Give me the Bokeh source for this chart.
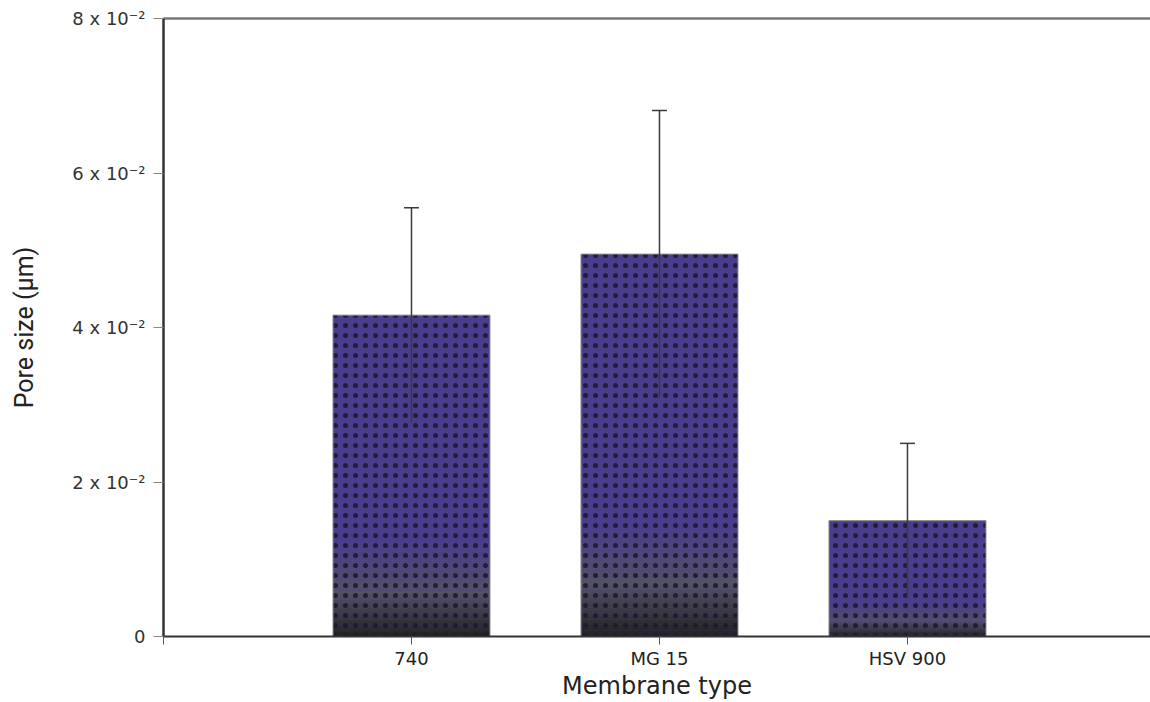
from bokeh.plotting import figure
from bokeh.models import FixedTicker, LinearAxis, Range1d
from bokeh.embed import file_html
from bokeh.resources import INLINE

categories = ["740", "MG 15", "HSV 900"]
means = [0.0416, 0.0495, 0.0150]
sds = [0.0139, 0.0186, 0.0100]
y_ticks = [0, 0.02, 0.04, 0.06, 0.08]
y_tick_labels = ["0", "2 x 10\u207b\u00b2", "4 x 10\u207b\u00b2", "6 x 10\u207b\u00b2", "8 x 10\u207b\u00b2"]

xs = [i + 1 for i in range(len(categories))]
BAR_W = 0.633
PURPLE = "#4a3e8c"

p = figure(width=1150, height=702, output_backend="svg", toolbar_location=None,
           x_range=Range1d(0, 3.98), y_range=Range1d(0, 0.08),
           min_border_left=163, min_border_right=0, min_border_top=18, min_border_bottom=66)
p.xgrid.visible = False
p.ygrid.visible = False
p.outline_line_color = None
p.background_fill_color = "white"

# main bars
p.vbar(x=xs, top=means, width=BAR_W, fill_color=PURPLE, line_color=None)

# gradient at the bottom of each bar (30% of bar height)
def lerp(c1, c2, t):
    a = [int(c1[i:i+2], 16) for i in (1, 3, 5)]
    b = [int(c2[i:i+2], 16) for i in (1, 3, 5)]
    return "#%02x%02x%02x" % tuple(int(round(a[k] + (b[k] - a[k]) * t)) for k in range(3))

n = 40
gl, gr, gb, gt, gc = [], [], [], [], []
for x, m in zip(xs, means):
    h = 0.30 * m
    for k in range(n):
        t = k / (n - 1)
        if t < 0.45:
            c = lerp("#222224", "#535165", t / 0.45)
        else:
            c = lerp("#535165", PURPLE, (t - 0.45) / 0.55)
        gl.append(x - BAR_W / 2)
        gr.append(x + BAR_W / 2)
        gb.append(h * k / n)
        gt.append(h * (k + 1) / n + 1e-5)
        gc.append(c)
p.quad(left=gl, right=gr, bottom=gb, top=gt, fill_color=gc, line_color=None)

# dot texture + outline
p.vbar(x=xs, top=means, width=BAR_W, fill_alpha=0, line_color="#8a8a8a", line_width=1,
       hatch_pattern="dot", hatch_color="#1d1a2e", hatch_scale=10, hatch_weight=5, hatch_alpha=0.9)

# error bars
lows = [m - s for m, s in zip(means, sds)]
highs = [m + s for m, s in zip(means, sds)]
p.segment(x0=xs, x1=xs, y0=lows, y1=highs, line_color="#3a3a3a", line_width=1.5)
p.segment(x0=[x - 0.03 for x in xs], x1=[x + 0.03 for x in xs], y0=highs, y1=highs,
          line_color="#3a3a3a", line_width=1.5)

# axes
p.xaxis.ticker = FixedTicker(ticks=[0] + xs)
p.xaxis.major_label_overrides = {0: "", **{x: c for x, c in zip(xs, categories)}}
p.xaxis.axis_label = "Membrane type"
p.xaxis.axis_label_text_font = "DejaVu Sans"
p.xaxis.axis_label_text_font_style = "normal"
p.xaxis.axis_label_text_font_size = "24px"
p.xaxis.axis_label_text_color = "#222222"
p.xaxis.axis_label_standoff = 0
p.xaxis.major_label_text_font = "DejaVu Sans"
p.xaxis.major_label_text_font_size = "18px"
p.xaxis.major_label_text_color = "#222222"
p.xaxis.major_label_standoff = 3
p.xaxis.axis_line_color = "#333333"
p.xaxis.axis_line_width = 2
p.xaxis.major_tick_line_color = "#555555"
p.xaxis.major_tick_out = 8
p.xaxis.major_tick_in = 0
p.xaxis.minor_tick_line_color = None

p.yaxis.ticker = FixedTicker(ticks=y_ticks)
p.yaxis.major_label_overrides = {t: l for t, l in zip(y_ticks, y_tick_labels)}
p.yaxis.axis_label = "Pore size (\u03bcm)"
p.yaxis.axis_label_text_font = "Roboto"
p.yaxis.axis_label_text_font_style = "normal"
p.yaxis.axis_label_text_font_size = "25px"
p.yaxis.axis_label_text_color = "#222222"
p.yaxis.axis_label_standoff = 30
p.yaxis.major_label_text_font = "DejaVu Sans"
p.yaxis.major_label_text_font_size = "18px"
p.yaxis.major_label_text_color = "#333333"
p.yaxis.major_label_standoff = 8
p.yaxis.axis_line_color = "#333333"
p.yaxis.axis_line_width = 2.5
p.yaxis.major_tick_line_color = "#888888"
p.yaxis.major_tick_out = 10
p.yaxis.major_tick_in = 0
p.yaxis.minor_tick_line_color = None

top_axis = LinearAxis(ticker=FixedTicker(ticks=[]), major_label_text_font_size="0px",
                      axis_line_color="#777777", axis_line_width=2.5,
                      major_tick_line_color=None, minor_tick_line_color=None)
p.add_layout(top_axis, "above")

open("out.html", "w").write(file_html(p, INLINE))
